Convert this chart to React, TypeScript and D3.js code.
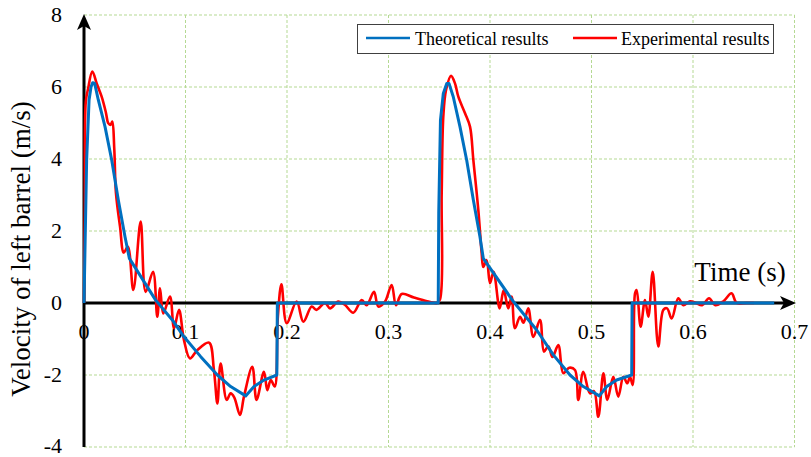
import React from "react";
import * as d3 from "d3";

const W = 811;
const H = 457;

const xTicks = [0, 0.1, 0.2, 0.3, 0.4, 0.5, 0.6, 0.7];
const yTicks = [-4, -2, 0, 2, 4, 6, 8];

// Theoretical results (blue)
const theoT = [0, 0.0026, 0.005, 0.0069, 0.0086, 0.0105, 0.0141, 0.0207, 0.0273, 0.0338, 0.0404, 0.0447, 0.0706, 0.087, 0.0985, 0.115, 0.1314, 0.1445, 0.1593, 0.1675, 0.1773, 0.1900, 0.1905, 0.349, 0.3495, 0.3512, 0.354, 0.3574, 0.3596, 0.3638, 0.3704, 0.377, 0.3836, 0.3901, 0.3934, 0.423, 0.446, 0.4624, 0.4788, 0.4919, 0.5077, 0.515, 0.5248, 0.5396, 0.5400, 0.68];
const theoV = [0, 3.97, 5.64, 6.0, 6.12, 6.1, 5.64, 4.9, 3.97, 2.86, 1.84, 1.24, 0.08, -0.47, -0.94, -1.49, -2.0, -2.32, -2.58, -2.32, -2.14, -2.0, 0, 0, 2.5, 5.08, 5.82, 6.1, 6.1, 5.73, 4.9, 3.97, 2.86, 1.84, 1.24, 0.04, -0.75, -1.44, -2.0, -2.32, -2.58, -2.32, -2.14, -2.0, 0, 0];

// Experimental results (red)
const expT = [0, 0.0008, 0.0018, 0.004, 0.0082, 0.0125, 0.0174, 0.0215, 0.024, 0.0262, 0.0279, 0.0298, 0.0315, 0.0355, 0.0392, 0.0432, 0.0486, 0.0558, 0.0608, 0.068, 0.0722, 0.0749, 0.0781, 0.0847, 0.0887, 0.0936, 0.0985, 0.1044, 0.1116, 0.1232, 0.128, 0.1314, 0.1346, 0.1406, 0.1445, 0.148, 0.1537, 0.1576, 0.1658, 0.170, 0.1773, 0.1806, 0.184, 0.1879, 0.191, 0.1945, 0.1997, 0.2095, 0.2161, 0.2243, 0.229, 0.2374, 0.2424, 0.2505, 0.257, 0.2653, 0.2736, 0.2785, 0.2857, 0.29, 0.2966, 0.3031, 0.3074, 0.313, 0.325, 0.338, 0.3475, 0.3507, 0.3524, 0.354, 0.3567, 0.3616, 0.3655, 0.3688, 0.3754, 0.3803, 0.3836, 0.3885, 0.3918, 0.3934, 0.3967, 0.40, 0.4035, 0.4095, 0.4135, 0.418, 0.4213, 0.4246, 0.4296, 0.433, 0.4377, 0.4427, 0.4493, 0.4532, 0.4575, 0.4615, 0.4673, 0.4722, 0.478, 0.4837, 0.487, 0.4919, 0.4985, 0.5025, 0.5067, 0.5117, 0.5156, 0.5215, 0.5264, 0.5314, 0.5353, 0.5379, 0.5406, 0.5429, 0.5445, 0.5484, 0.5527, 0.556, 0.5603, 0.5658, 0.5708, 0.5745, 0.579, 0.5855, 0.5905, 0.597, 0.603, 0.609, 0.6158, 0.622, 0.630, 0.638, 0.643, 0.653, 0.66];
const expV = [0, 2.5, 5.6, 5.95, 6.43, 6.1, 5.73, 5.3, 4.99, 4.95, 5.04, 4.3, 3.05, 2.12, 1.4, 1.56, 0.36, 2.26, 0.31, 0.87, -0.38, 0.41, -0.29, 0.18, -0.7, -0.19, -1.03, -1.54, -1.31, -1.1, -1.86, -2.79, -1.68, -2.69, -2.51, -2.62, -3.11, -2.6, -1.77, -2.69, -1.91, -2.42, -2.14, -2.32, -0.38, 0.52, -0.56, 0.04, -0.52, -0.1, -0.19, 0.0, -0.15, 0.04, -0.05, -0.27, 0.08, -0.06, 0.31, -0.1, 0.04, 0.5, -0.06, 0.25, 0.15, 0.05, 0.0, 0.1, 3.05, 5.18, 5.92, 6.31, 6.1, 5.73, 5.27, 4.9, 3.97, 2.58, 1.38, 1.0, 1.19, 0.55, 0.87, -0.15, 0.36, -0.15, 0.18, -0.7, -0.38, -0.55, -0.15, -0.94, -0.47, -1.35, -1.2, -1.5, -1.17, -1.95, -1.8, -1.86, -2.69, -1.91, -2.51, -2.45, -3.16, -1.95, -2.69, -2.05, -2.6, -2.05, -2.23, -2.05, -2.28, 0.27, 0.36, -0.66, 0.08, -0.38, 0.87, -1.21, -0.19, -0.15, -0.43, 0.13, -0.06, 0.05, 0.0, -0.06, 0.13, -0.06, 0.05, 0.27, 0.0, 0.0, 0.0];

const SERIF = "'Liberation Serif', 'Times New Roman', Times, serif";
const tStyle = { fontFamily: SERIF };

export default function App() {
  const x = d3.scaleLinear().domain([0, 0.7]).range([84, 794.5]);
  const y = d3.scaleLinear().domain([-4, 8]).range([447, 15]);

  const theo: [number, number][] = theoT.map((t, i) => [t, theoV[i]]);
  const exp: [number, number][] = expT.map((t, i) => [t, expV[i]]);

  const blueLine = d3
    .line<[number, number]>()
    .x((d) => x(d[0]))
    .y((d) => y(d[1]))
    .curve(d3.curveLinear);
  const redLine = d3
    .line<[number, number]>()
    .x((d) => x(d[0]))
    .y((d) => y(d[1]))
    .curve(d3.curveCatmullRom.alpha(0.5));

  const gridColor = "#B5D993";
  const x0 = x(0);
  const y0 = y(0);

  return (
    <svg
      width={W}
      height={H}
      style={{ position: "absolute", left: 0, top: 0, background: "#fff" }}
    >
      <rect x={0} y={0} width={W} height={H} fill="#fff" />
      {/* grid */}
      {xTicks.slice(1).map((t) => (
        <line
          key={"gx" + t}
          x1={x(t)}
          x2={x(t)}
          y1={y(8)}
          y2={y(-4)}
          stroke={gridColor}
          strokeWidth={1}
          strokeDasharray="3,2"
        />
      ))}
      {yTicks.map((v) => (
        <line
          key={"gy" + v}
          x1={x(0)}
          x2={x(0.7)}
          y1={y(v)}
          y2={y(v)}
          stroke={gridColor}
          strokeWidth={1}
          strokeDasharray="3,2"
        />
      ))}

      {/* y tick labels */}
      {yTicks.map((v) => (
        <text
          key={"ty" + v}
          x={62}
          y={y(v)}
          dy={v === -4 ? "0.26em" : "0.33em"}
          textAnchor="end"
          fontSize={22}
          fill="#000"
          style={tStyle}
        >
          {v}
        </text>
      ))}
      {/* x tick labels */}
      {xTicks.map((t) => (
        <text
          key={"tx" + t}
          x={x(t)}
          y={339}
          textAnchor="middle"
          fontSize={22}
          fill="#000"
          style={tStyle}
        >
          {t}
        </text>
      ))}

      {/* axes */}
      <line x1={x0} x2={x0} y1={y(-4)} y2={26} stroke="#000" strokeWidth={3} />
      <path
        d={`M ${x0} ${14} L ${x0 + 7} ${30} L ${x0} ${26} L ${x0 - 7} ${30} Z`}
        fill="#000"
      />
      <line x1={x0} x2={784} y1={y0} y2={y0} stroke="#000" strokeWidth={3} />
      <path
        d={`M ${796} ${y0} L ${780} ${y0 - 7} L ${784} ${y0} L ${780} ${y0 + 7} Z`}
        fill="#000"
      />

      {/* data */}
      <path d={redLine(exp) || ""} fill="none" stroke="#FF0000" strokeWidth={2.6} strokeLinejoin="round" />
      <path d={blueLine(theo) || ""} fill="none" stroke="#0070C0" strokeWidth={3} strokeLinejoin="round" />

      {/* axis titles */}
      <text x={740} y={281} textAnchor="middle" fontSize={27} fill="#000" style={tStyle}>
        Time (s)
      </text>
      <text
        transform={`translate(30, 249) rotate(-90)`}
        textAnchor="middle"
        fontSize={27}
        fill="#000"
        style={tStyle}
      >
        Velocity of left barrel (m/s)
      </text>

      {/* legend */}
      <rect x={357.5} y={24.5} width={416} height={29} fill="#fff" stroke="#404040" strokeWidth={1} />
      <line x1={366} x2={410} y1={38} y2={38} stroke="#0070C0" strokeWidth={2.5} />
      <text x={415} y={45} fontSize={18} fill="#000" style={tStyle}>
        Theoretical results
      </text>
      <line x1={573} x2={617} y1={38} y2={38} stroke="#FF0000" strokeWidth={2.5} />
      <text x={621} y={45} fontSize={18} fill="#000" style={tStyle}>
        Experimental results
      </text>
    </svg>
  );
}
